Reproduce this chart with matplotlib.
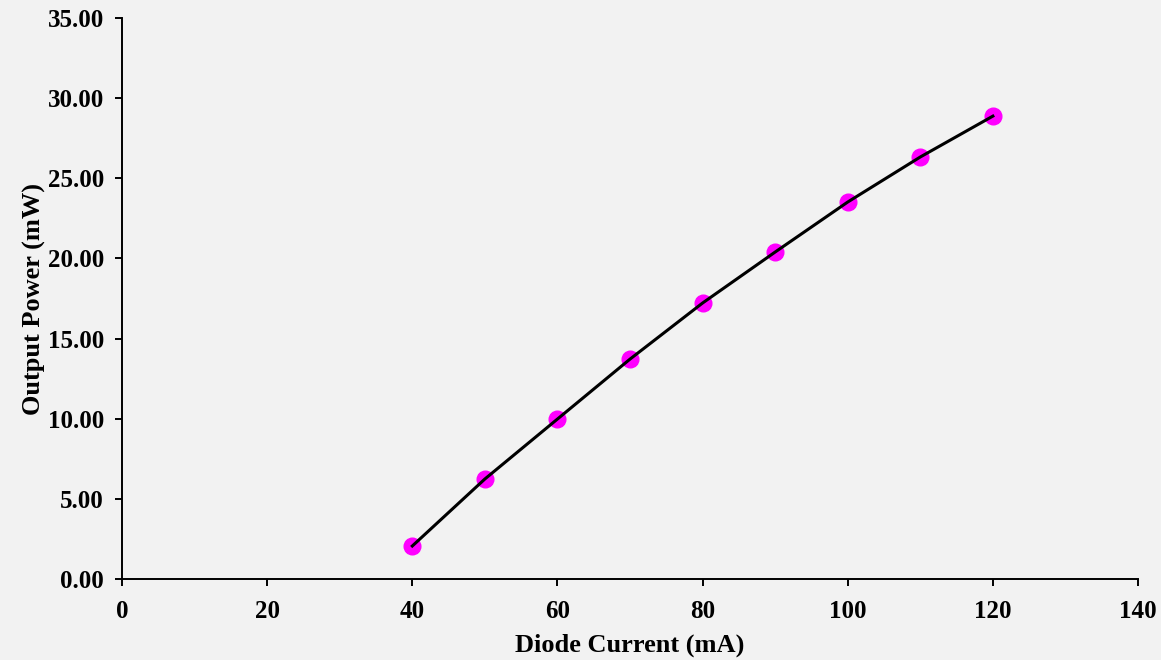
import matplotlib
matplotlib.use("Agg")
import matplotlib.pyplot as plt

current_ma = [40, 50, 60, 70, 80, 90, 100, 110, 120]
power_mw = [2.06, 6.24, 9.98, 13.72, 17.22, 20.40, 23.52, 26.33, 28.88]
yticks = [0, 5, 10, 15, 20, 25, 30, 35]
xticks = [0, 20, 40, 60, 80, 100, 120, 140]

plt.rcParams["font.family"] = ["Liberation Serif", "DejaVu Serif"]
plt.rcParams["font.weight"] = "bold"

bg = "#f2f2f2"
fig = plt.figure(figsize=(11.61, 6.6), dpi=100, facecolor=bg)
ax = fig.add_axes([0.1051, 0.1227, 0.8751, 0.85])
ax.set_facecolor(bg)

ax.plot(current_ma, power_mw, color="magenta", marker="o", ms=12, lw=0, zorder=2)
ax.plot(current_ma, power_mw, color="black", lw=2.2, zorder=3)

ax.set_xlim(0, 140)
ax.set_ylim(0, 35)
ax.set_xticks(xticks)
ax.set_yticks(yticks)
ax.set_yticklabels([f"{v:.2f}" for v in yticks])
for s in ("top", "right"):
    ax.spines[s].set_visible(False)
for s in ("left", "bottom"):
    ax.spines[s].set_linewidth(1.4)
ax.tick_params(direction="out", length=5, width=1.4, labelsize=18)
ax.tick_params(axis="x", pad=10)
ax.tick_params(axis="y", pad=8)
for lab in ax.get_xticklabels() + ax.get_yticklabels():
    lab.set_fontweight("bold")

ax.set_xlabel("Diode Current (mA)", fontsize=19, fontweight="bold", labelpad=8)
ax.set_ylabel("Output Power (mW)", fontsize=19, fontweight="bold", labelpad=1)

fig.savefig("out.png", dpi=100, facecolor=bg)
